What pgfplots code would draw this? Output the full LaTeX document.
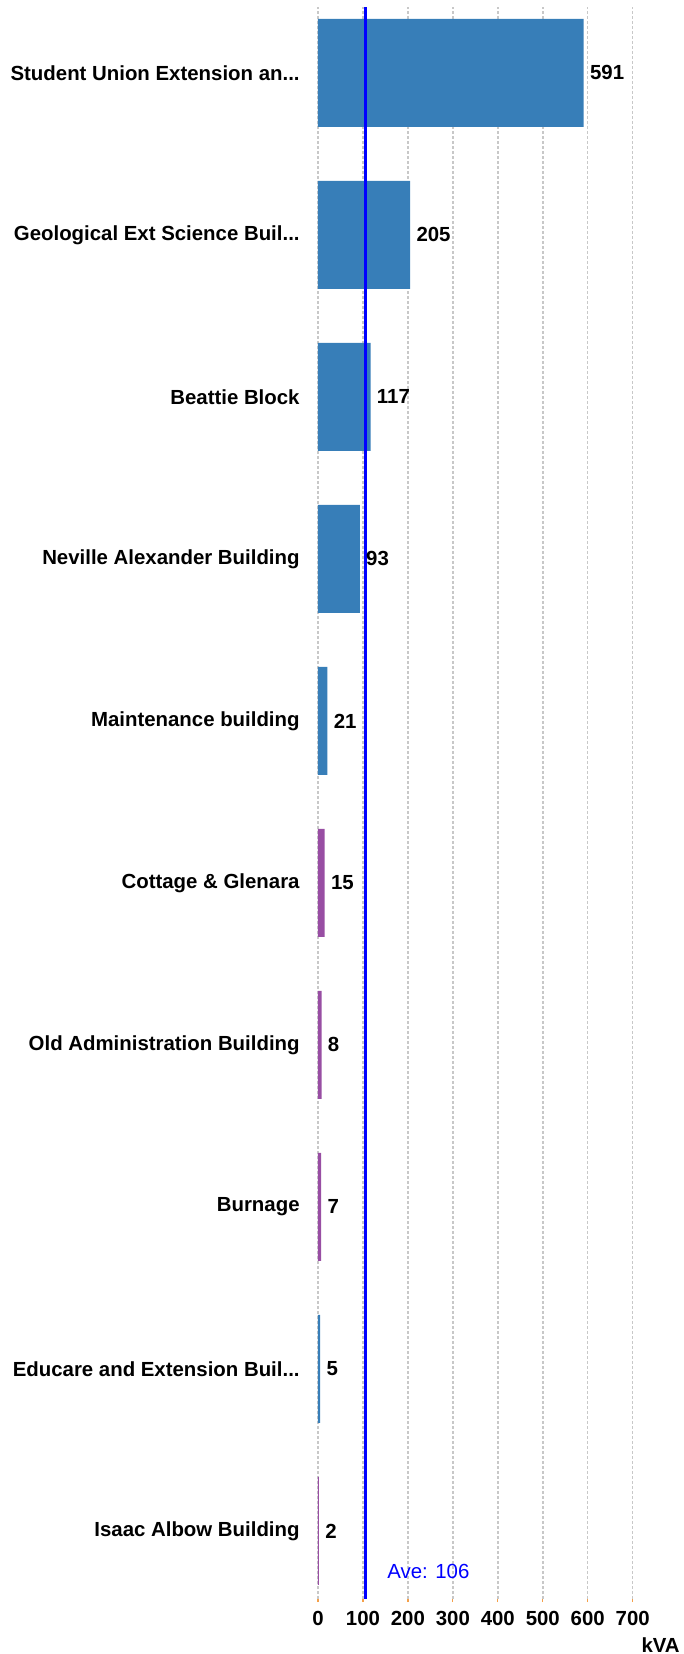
\documentclass[border=0pt]{standalone}
\usepackage{fontspec}
\setmainfont{Liberation Sans}
\usepackage{pgfplots}
\pgfplotsset{compat=1.18}

\definecolor{barblue}{HTML}{377EB8}
\definecolor{barpurple}{HTML}{984EA3}
\definecolor{gridgray}{HTML}{C8C8C8}
\definecolor{tickorange}{HTML}{F5A04A}

\newcommand{\lbl}{\fontsize{10.2}{12}\selectfont}
\newcommand{\dd}{...}

\begin{document}
\begin{tikzpicture}
\begin{axis}[
    scale only axis,
    width=157.35pt, height=796pt,
    xmin=0, xmax=700,
    ymin=-0.42, ymax=9.407,
    xtick={0,100,200,300,400,500,600,700},
    ytick={0,1,2,3,4,5,6,7,8,9},
    yticklabels={Isaac Albow Building, Educare and Extension Buil\dd, Burnage,
        Old Administration Building, Cottage \& Glenara, Maintenance building,
        Neville Alexander Building, Beattie Block, Geological Ext Science Buil\dd,
        Student Union Extension an\dd},
    /pgf/number format/assume math mode=true,
    axis line style={draw=none},
    xmajorgrids,
    grid style={gridgray, line width=0.75pt, dash pattern=on 1.5pt off 1pt},
    tick align=outside,
    xtick pos=bottom,
    major tick length=1.5pt,
    xtick style={tickorange, line width=0.6pt},
    ytick style={draw=none},
    xticklabel style={font=\lbl\bfseries, inner sep=0pt, anchor=base, yshift=-11.5pt},
    yticklabel style={font=\lbl\bfseries, inner sep=0pt, anchor=east, xshift=-7.5pt},
    xlabel={kVA},
    every axis x label/.style={at={(rel axis cs:1,0)}, anchor=base east,
        font=\lbl\bfseries, inner sep=0pt, xshift=23.7pt, yshift=-26.5pt},
]
\addplot[xbar, bar shift=0pt, bar width=0.667, fill=barblue, draw=none,
    nodes near coords,
    every node near coord/.append style={font=\lbl\bfseries, anchor=west, inner sep=0pt, xshift=3pt}]
    coordinates {(591,9) (205,8) (117,7) (93,6) (21,5) (5,1)};
\addplot[xbar, bar shift=0pt, bar width=0.667, fill=barpurple, draw=none,
    nodes near coords,
    every node near coord/.append style={font=\lbl\bfseries, anchor=west, inner sep=0pt, xshift=3pt}]
    coordinates {(15,4) (8,3) (7,2) (2,0)};
\addplot[blue, line width=1.25pt, mark=none] coordinates {(106,-0.42) (106,9.407)};
\node[anchor=base west, inner sep=0pt, text=blue, font=\lbl] at (axis cs:153.5,-0.42) [yshift=10.5pt] {Ave: 106};
\end{axis}
\pgfresetboundingbox
\useasboundingbox (-159pt,-27.5pt) rectangle (183pt,799.5pt);
\end{tikzpicture}
\end{document}
